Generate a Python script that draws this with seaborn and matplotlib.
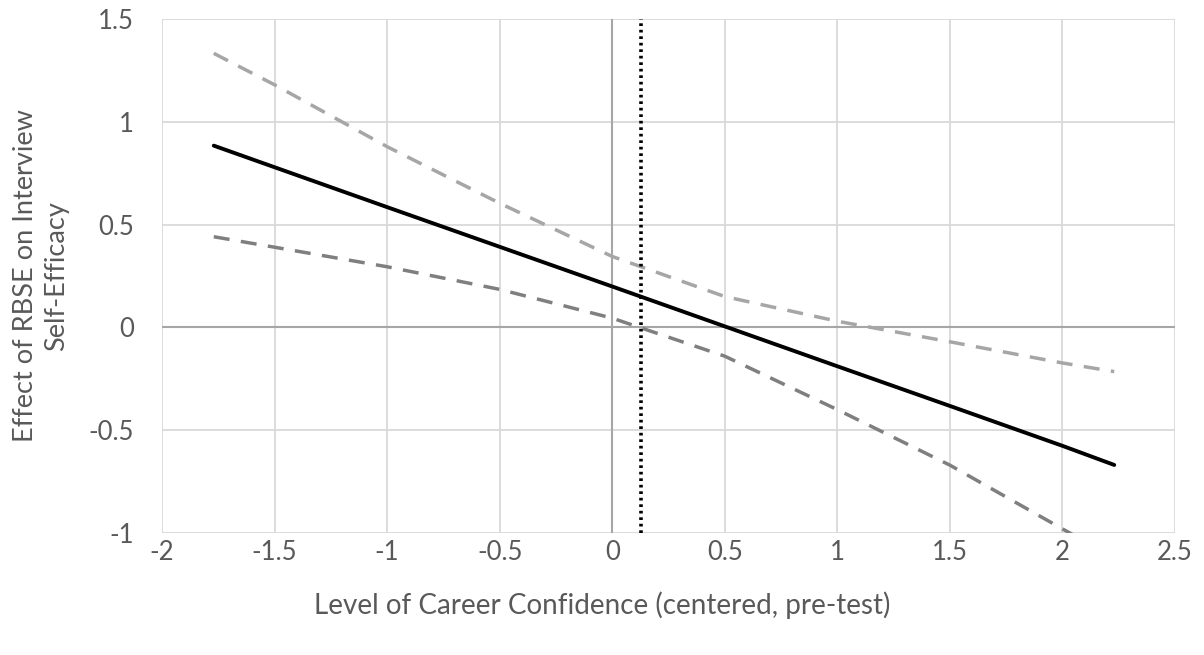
import matplotlib
matplotlib.use("Agg")
import matplotlib.pyplot as plt
import seaborn as sns
import pandas as pd

# Data
x_vals = [-1.77, -1.5, -1.0, -0.5, 0.0, 0.5, 1.0, 1.5, 2.0, 2.23]
effect = [0.884, 0.779, 0.585, 0.392, 0.199, 0.005, -0.189, -0.382, -0.576, -0.669]
upper_ci = [1.333, 1.18, 0.879, 0.604, 0.345, 0.15, 0.03, -0.07, -0.173, -0.215]
lower_ci = [0.441, 0.39, 0.295, 0.185, 0.045, -0.14, -0.40, -0.67, -0.98, -1.12]
jn_point = 0.13
x_ticks = [-2, -1.5, -1, -0.5, 0, 0.5, 1, 1.5, 2, 2.5]
y_ticks = [-1, -0.5, 0, 0.5, 1, 1.5]
x_label = "Level of Career Confidence (centered, pre-test)"
y_label = "Effect of RBSE on Interview\nSelf-Efficacy"

df = pd.DataFrame({"x": x_vals, "effect": effect, "upper": upper_ci, "lower": lower_ci})

sns.set_theme(style="white")
plt.rcParams["font.family"] = ["Lato", "DejaVu Sans"]

fig = plt.figure(figsize=(12.04, 6.55), dpi=100)
ax = fig.add_axes([162 / 1204, 1 - 533 / 655, (1175 - 162) / 1204, (533 - 19) / 655])

grid_c = "#d9d9d9"
for t in x_ticks:
    ax.axvline(t, color=grid_c, lw=1.3, zorder=0)
for t in y_ticks:
    ax.axhline(t, color=grid_c, lw=1.3, zorder=0)
ax.axvline(0, color="#a6a6a6", lw=1.5, zorder=0.5)
ax.axhline(0, color="#a6a6a6", lw=1.5, zorder=0.5)

sns.lineplot(data=df, x="x", y="upper", ax=ax, color="#a6a6a6", lw=2.5,
             linestyle=(0, (4.6, 3.3)), zorder=2)
sns.lineplot(data=df, x="x", y="lower", ax=ax, color="#7f7f7f", lw=2.5,
             linestyle=(0, (4.6, 3.3)), zorder=2)
sns.lineplot(data=df, x="x", y="effect", ax=ax, color="black", lw=2.8, zorder=3)
ax.axvline(jn_point, color="black", lw=2.6, linestyle=(0, (0.75, 1.05)), zorder=4)

ax.set_xlim(-2, 2.5)
ax.set_ylim(-1, 1.5)
ax.set_xticks(x_ticks)
ax.set_yticks(y_ticks)
ax.set_xticklabels([f"{t:g}" for t in x_ticks])
ax.set_yticklabels([f"{t:g}" for t in y_ticks])
for s in ax.spines.values():
    s.set_visible(False)
ax.tick_params(axis="both", length=0, labelsize=18.5, colors="#595959")
ax.tick_params(axis="x", pad=5)
ax.tick_params(axis="y", pad=20)
ax.set_xlabel(x_label, fontsize=20, color="#595959")
ax.xaxis.set_label_coords((602 - 162) / 1013, -(605 - 533) / 514, transform=ax.transAxes)
ax.xaxis.label.set_va("center")
ax.set_ylabel(y_label, fontsize=19.5, color="#595959", labelpad=14, linespacing=1.3)

fig.savefig("out.png", dpi=100)
